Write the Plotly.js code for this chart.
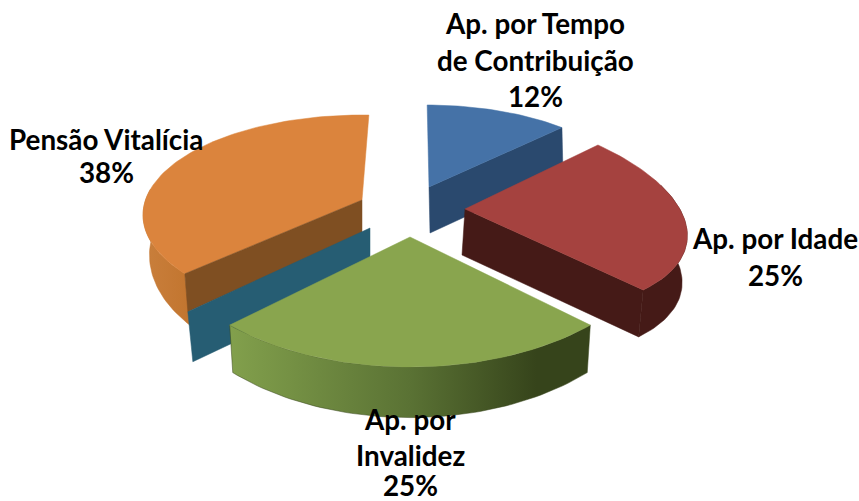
<!DOCTYPE html>
<html><head><meta charset="utf-8">
<script src="https://cdn.plot.ly/plotly-3.0.1.min.js"></script>
<style>html,body{margin:0;padding:0;background:#fff}</style></head>
<body><div id="chart" style="width:859px;height:501px"></div>
<script>
const categories = ["Ap. por Tempo de Contribuição", "Ap. por Idade", "Ap. por Invalidez", "Pensão Vitalícia"];
const shares = [12, 25, 25, 38];
const labelLines = [
  ["Ap. por Tempo", "de Contribuição", "12%"],
  ["Ap. por Idade", "25%"],
  ["Ap. por", "Invalidez", "25%"],
  ["Pensão Vitalícia", "38%"]
];

// 3D look: each exploded slice is a skewed ellipse sector (pixel-based axes)
const rotation = 1.8;
const total = shares.reduce((a, b) => a + b, 0);
const rad = d => d * Math.PI / 180;
let run = rotation;
const spans = shares.map(v => { const s = run; run += v / total * 360; return [s, run]; });
const geom = [
  {apex:[429,187], c:[429,187], A:[196,-2], U:[-8,-82], D:[1,44], kx:1, ky:1, top:"#4572a7", cut:"#2a496e", startShift:0},
  {apex:[465,209], c:[465,209], A:[220,12], U:[-32,-102.5], D:[-3,47], kx:.99, ky:1, top:"#a5423f", cut:"#451a17", wall:[70,null], wallFill:"#451a17", startShift:0},
  {apex:[410,237], c:[410,224], A:[255,0], U:[0,-143], D:[0,40], kx:.983, ky:1.074, top:"#89a54e", wall:[null,null], wallGrad:[[0,"#82a04c"],[.5,"#5a7234"],[.85,"#36441b"],[1,"#36441b"]], startShift:0},
  {apex:[362,200], c:[362,215], A:[219,0], U:[0,-100], D:[1,40], kx:.975, ky:1.2, top:"#db843d", wall:[null,285], wallGrad:[[0,"#c97f3c"],[1,"#c2752f"]], cut:null, startShift:9, inner:"#7f4f22", back:"#265d73"}
];
function pt(g, t) {
  const s = Math.sin(rad(t)), c = Math.cos(rad(t));
  return [g.c[0] + g.A[0]*s + g.U[0]*c, g.c[1] + g.A[1]*s + g.U[1]*c];
}
function low(g, t) {
  const s = Math.sin(rad(t)), c = Math.cos(rad(t));
  return [g.c[0] + g.D[0] + g.kx*g.A[0]*s + g.ky*g.U[0]*c, g.c[1] + g.D[1] + g.kx*g.A[1]*s + g.ky*g.U[1]*c];
}
function arc(f, g, a, b) { const o = []; const n = Math.max(2, Math.ceil(Math.abs(b-a)/1.5)); for (let i=0;i<=n;i++) o.push(f(g, a+(b-a)*i/n)); return o; }
function poly(pts, fill, grad) {
  const tr = {type:"scatter", mode:"lines", x:pts.map(p=>p[0]).concat(pts[0][0]), y:pts.map(p=>p[1]).concat(pts[0][1]),
    fill:"toself", line:{width:0.5, color: grad ? grad[Math.floor(grad.length/2)][1] : fill}, hoverinfo:"skip", showlegend:false};
  if (grad) tr.fillgradient = {type:"horizontal", colorscale:grad}; else tr.fillcolor = fill;
  return tr;
}
function sliceTraces(i) {
  const g = geom[i], start = spans[i][0] + g.startShift, end = spans[i][1], out = [];
  const add = (a,b) => [a[0]+b[0], a[1]+b[1]];
  if (g.wall) {
    const a = g.wall[0] === null ? start : g.wall[0], b = g.wall[1] === null ? end : g.wall[1];
    out.push(poly(arc(pt,g,a,b).concat(arc(low,g,a,b).reverse()), g.wallFill, g.wallGrad));
  }
  if (g.cut) {
    const e = pt(g,end), le = low(g,end);
    out.push(poly([g.apex, e, le, add(g.apex,[g.D[0], 46])], g.cut));
  }
  out.push(poly([g.apex].concat(arc(pt,g,start,end)), g.top));
  if (g.inner) {
    const e = pt(g,start);
    out.push(poly([e, g.apex, add(g.apex,[0,34]), add(e,[3,38])], g.inner));
    const t1 = add(e,[3,38]), t2 = add(g.apex,[8,28]);
    out.push(poly([t1, t2, add(t2,[0,50]), add(t1,[5,50])], g.back));
  }
  return out;
}
const traces = [].concat(sliceTraces(0), sliceTraces(3), sliceTraces(1), sliceTraces(2));

const labelX = [535, 775, 410, 106];
const labelY = [[23,60,96],[238,275],[419,455,485],[139,172]];
const annotations = [];
labelLines.forEach((lines,i) => lines.forEach((t,j) => annotations.push({
  x: labelX[i], y: labelY[i][j], xref:"x", yref:"y", text:t, showarrow:false, xanchor:"center", yanchor:"middle", borderpad:0,
  font:{family:"Lato, 'Open Sans', sans-serif", size:27.8, color:"#000", weight:700}
})));

Plotly.newPlot("chart", traces, {
  width:859, height:501, margin:{l:0,r:0,t:0,b:0}, paper_bgcolor:"#fff", plot_bgcolor:"#fff", showlegend:false,
  xaxis:{range:[0,859], visible:false, fixedrange:true},
  yaxis:{range:[501,0], visible:false, fixedrange:true},
  annotations
}, {displayModeBar:false, staticPlot:true});
</script></body></html>
